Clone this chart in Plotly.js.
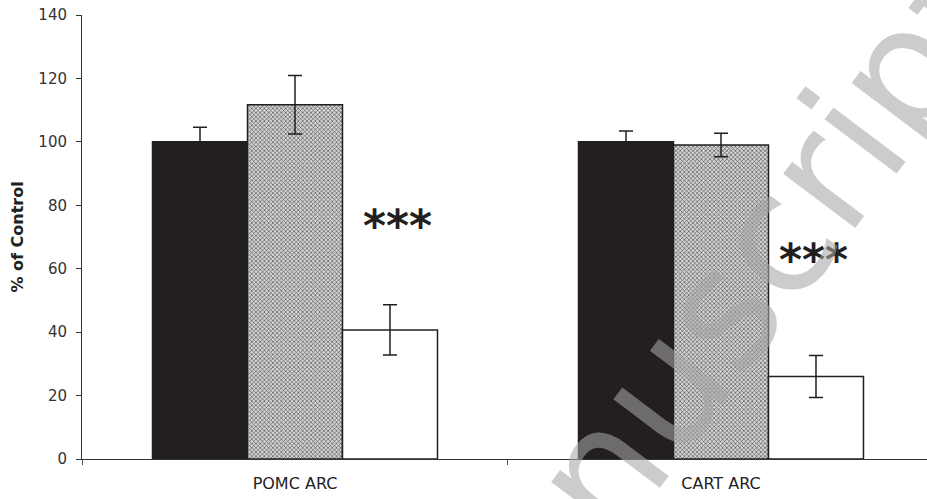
<!DOCTYPE html>
<html>
<head>
<meta charset="utf-8">
<script src="https://cdn.plot.ly/plotly-3.0.1.min.js"></script>
<style>html,body{margin:0;padding:0;background:#fff;overflow:hidden}</style>
</head>
<body>
<div id="chart" style="width:927px;height:499px"></div>
<script>
const categories = ["POMC ARC", "CART ARC"];
const seriesA = [100, 100];
const errA = [4.6, 3.4];
const seriesB = [111.7, 99.0];
const errB = [9.2, 3.7];
const seriesC = [40.7, 26.0];
const errC = [7.9, 6.6];
const yTicks = [0, 20, 40, 60, 80, 100, 120, 140];
const sigLabels = ["***", "***"];
const watermark = "Accepted Manuscript";

const font = "DejaVu Sans, Verdana, sans-serif";
const line = {color: "#231f20", width: 1.5};
function err(arr) {
  return {type: "data", array: arr, visible: true, color: "#231f20", thickness: 1.5, width: 7};
}
const traces = [
  {type: "bar", x: categories, y: seriesA, error_y: err(errA),
   marker: {color: "#231f20", line: line}},
  {type: "bar", x: categories, y: seriesB, error_y: err(errB),
   marker: {color: "#bdbdbd", line: line,
     pattern: {shape: "x", size: 3, solidity: 0.35, fgcolor: "#444", bgcolor: "#d4d4d4"}}},
  {type: "bar", x: categories, y: seriesC, error_y: err(errC),
   marker: {color: "#ffffff", line: line}}
];
const annotations = [
  {xref: "x", yref: "y", x: 0.24, y: 73.5, text: sigLabels[0], showarrow: false,
   font: {family: font, size: 44, color: "#231f20", weight: "bold"}},
  {xref: "x", yref: "y", x: 1.216, y: 63, text: sigLabels[1], showarrow: false,
   font: {family: font, size: 44, color: "#231f20", weight: "bold"}},
  {xref: "paper", yref: "paper", x: 0.435, y: -0.48, xanchor: "center", yanchor: "middle",
   text: watermark, showarrow: false,
   textangle: -53, font: {family: font, size: 165, color: "rgba(166,166,166,0.57)"}}
];
const layout = {
  width: 927, height: 499, autosize: false,
  margin: {l: 82, r: 0, t: 15, b: 40, pad: 0},
  paper_bgcolor: "#fff", plot_bgcolor: "#fff",
  showlegend: false,
  barmode: "group", bargap: 0.331, bargroupgap: 0,
  font: {family: font, size: 16, color: "#333"},
  xaxis: {type: "category", range: [-0.5, 1.4836], showline: true, linecolor: "#333", linewidth: 1,
    ticks: "outside", tickson: "boundaries", ticklen: 5, tickcolor: "#555",
    ticklabelstandoff: 10,
    showgrid: false, zeroline: false, tickfont: {size: 16, color: "#222"}},
  yaxis: {range: [0, 140], tickvals: yTicks, showline: true, linecolor: "#333", linewidth: 1,
    ticks: "outside", ticklen: 5, tickcolor: "#333", showgrid: false, zeroline: false,
    ticklabelstandoff: 6,
    tickfont: {size: 15, color: "#333"},
    title: {text: "% of Control", font: {size: 16, color: "#222", weight: "bold"}, standoff: 10}},
  annotations: annotations
};
Plotly.newPlot("chart", traces, layout, {staticPlot: true, displayModeBar: false});
</script>
</body>
</html>
